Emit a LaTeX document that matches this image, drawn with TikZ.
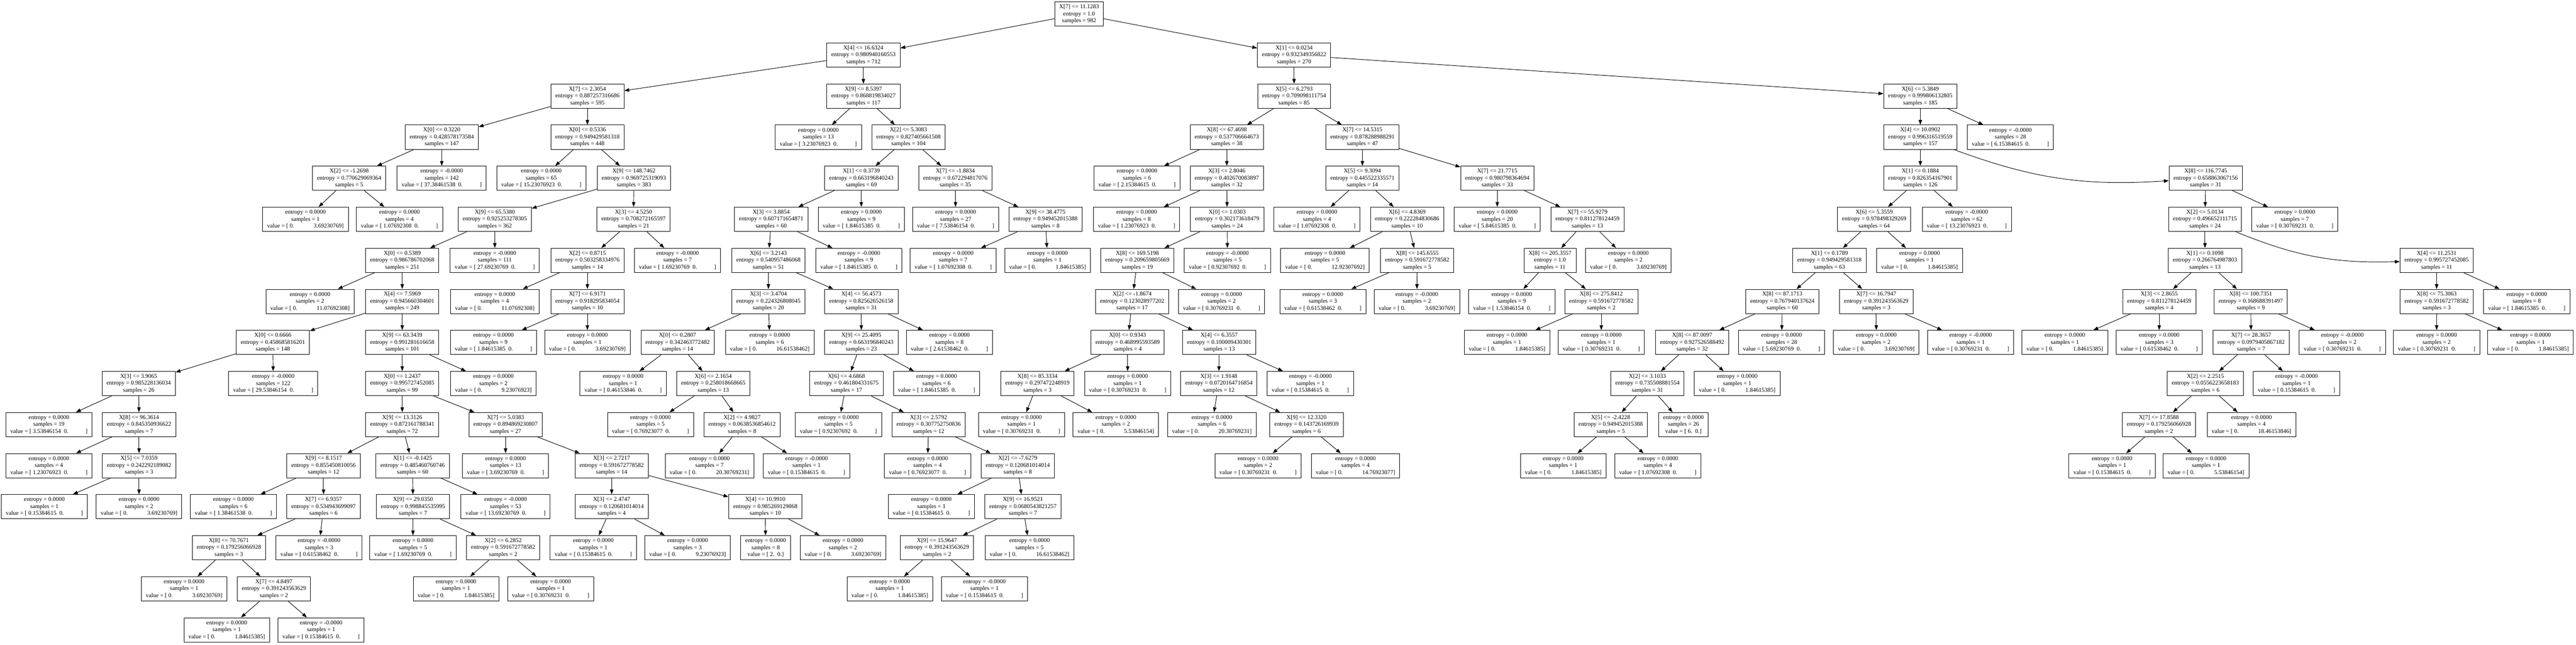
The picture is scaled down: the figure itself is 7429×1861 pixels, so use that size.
\documentclass[tikz,border=0pt]{standalone}
\usepackage{fontspec}
\setmainfont{Liberation Serif}
\usetikzlibrary{arrows.meta}
\newcommand{\tfs}{\fontsize{4.85}{5.7}\selectfont}
\newcommand{\spl}[3]{#1\\entropy = #2\\samples = #3}
\newcommand{\lfa}[3]{entropy = #1\\samples = #2\\value = [ #3\hspace{0.5em}0.\hspace{2.9em}]}
\newcommand{\lfb}[3]{entropy = #1\\samples = #2\\value = [ 0.\hspace{3.3em}#3]}
\newcommand{\lfc}[3]{entropy = #1\\samples = #2\\value = [ #3\hspace{0.5em}0.]}
\tikzset{
  tn/.style={draw, line width=0.4pt, rectangle, align=center, font=\tfs,
    minimum height=0.70cm, inner xsep=0.13cm, inner ysep=0pt, fill=white},
  ed/.style={-{Triangle[length=0.14cm,width=0.10cm]}, line width=0.4pt}
}
\begin{document}
\begin{tikzpicture}[x=0.01cm,y=-0.01cm]
\fill[white] (0,0) rectangle (7429,1861);
\useasboundingbox (0,0) rectangle (7429,1861);
% level 0
\node[tn] (n0) at (3112,40.5) {\spl{X[7] <= 11.1283}{1.0}{982}};
% level 1
\node[tn] (n1) at (2490,159) {\spl{X[4] <= 16.6324}{0.980940160553}{712}};
\node[tn] (n2) at (3732,159) {\spl{X[1] <= 0.0234}{0.932349356822}{270}};
% level 2
\node[tn] (n3) at (1694,277.5) {\spl{X[7] <= 2.3054}{0.887257316686}{595}};
\node[tn] (n4) at (2490,277.5) {\spl{X[9] <= 8.5397}{0.868819834027}{117}};
\node[tn] (n5) at (3732,277.5) {\spl{X[5] <= 6.2793}{0.709098111754}{85}};
\node[tn] (n6) at (5538,277.5) {\spl{X[6] <= 5.3849}{0.999806132805}{185}};
% level 3
\node[tn] (n7) at (1274,396) {\spl{X[0] <= 0.3220}{0.428578173584}{147}};
\node[tn] (n8) at (1694,396) {\spl{X[0] <= 0.5336}{0.949429581318}{448}};
\node[tn] (n9) at (2360,396) {\lfa{0.0000}{13}{3.23076923}};
\node[tn] (n10) at (2620,396) {\spl{X[2] <= 5.3083}{0.827405661508}{104}};
\node[tn] (n11) at (3538,396) {\spl{X[8] <= 67.4698}{0.537706664673}{38}};
\node[tn] (n12) at (3929,396) {\spl{X[7] <= 14.5315}{0.878288988291}{47}};
\node[tn] (n13) at (5538,396) {\spl{X[4] <= 10.0902}{0.996316519559}{157}};
\node[tn] (n14) at (5798,396) {\lfa{-0.0000}{28}{6.15384615}};
% level 4
\node[tn] (n15) at (1007,514.5) {\spl{X[2] <= -1.2698}{0.770629069364}{5}};
\node[tn] (n16) at (1274,514.5) {\lfa{-0.0000}{142}{37.38461538}};
\node[tn] (n17) at (1561,514.5) {\lfa{0.0000}{65}{15.23076923}};
\node[tn] (n18) at (1828,514.5) {\spl{X[9] <= 148.7462}{0.969725319093}{383}};
\node[tn] (n19) at (2484,514.5) {\spl{X[1] <= 0.3739}{0.663196840243}{69}};
\node[tn] (n20) at (2755,514.5) {\spl{X[7] <= -1.8834}{0.672294817076}{35}};
\node[tn] (n21) at (3279,514.5) {\lfa{0.0000}{6}{2.15384615}};
\node[tn] (n22) at (3538,514.5) {\spl{X[3] <= 2.8046}{0.402670083897}{32}};
\node[tn] (n23) at (3929,514.5) {\spl{X[5] <= 9.3094}{0.445522335571}{14}};
\node[tn] (n24) at (4318,514.5) {\spl{X[7] <= 21.7715}{0.980798364694}{33}};
\node[tn] (n25) at (5538,514.5) {\spl{X[1] <= 0.1884}{0.826354167901}{126}};
\node[tn] (n26) at (6361,514.5) {\spl{X[8] <= 116.7745}{0.658863067156}{31}};
% level 5
\node[tn] (n27) at (881,633) {\lfb{0.0000}{1}{3.69230769}};
\node[tn] (n28) at (1152,633) {\lfa{0.0000}{4}{1.07692308}};
\node[tn] (n29) at (1427,633) {\spl{X[9] <= 65.5380}{0.925253278305}{362}};
\node[tn] (n30) at (1827,633) {\spl{X[3] <= 4.5250}{0.708272165597}{21}};
\node[tn] (n31) at (2224,633) {\spl{X[3] <= 3.8854}{0.607171654871}{60}};
\node[tn] (n32) at (2484,633) {\lfa{0.0000}{9}{1.84615385}};
\node[tn] (n33) at (2756,633) {\lfa{0.0000}{27}{7.53846154}};
\node[tn] (n34) at (3015,633) {\spl{X[9] <= 38.4775}{0.949452015388}{8}};
\node[tn] (n35) at (3278,633) {\lfa{0.0000}{8}{1.23076923}};
\node[tn] (n36) at (3539,633) {\spl{X[0] <= 1.0303}{0.302173618479}{24}};
\node[tn] (n37) at (3798,633) {\lfa{0.0000}{4}{1.07692308}};
\node[tn] (n38) at (4058,633) {\spl{X[6] <= 4.8369}{0.222284830686}{10}};
\node[tn] (n39) at (4318,633) {\lfa{0.0000}{20}{5.84615385}};
\node[tn] (n40) at (4578,633) {\spl{X[7] <= 55.9279}{0.811278124459}{13}};
\node[tn] (n41) at (5405,633) {\spl{X[6] <= 5.3559}{0.978498329269}{64}};
\node[tn] (n42) at (5672,633) {\lfa{-0.0000}{62}{13.23076923}};
\node[tn] (n43) at (6359,633) {\spl{X[2] <= 5.0134}{0.496652111715}{24}};
\node[tn] (n44) at (6618,633) {\lfa{0.0000}{7}{0.30769231}};
% level 6
\node[tn] (n45) at (1160,751.5) {\spl{X[0] <= 0.5389}{0.986786702068}{251}};
\node[tn] (n46) at (1427,751.5) {\lfa{-0.0000}{111}{27.69230769}};
\node[tn] (n47) at (1694,751.5) {\spl{X[2] <= 0.8715}{0.503258334976}{14}};
\node[tn] (n48) at (1954,751.5) {\lfa{-0.0000}{7}{1.69230769}};
\node[tn] (n49) at (2216,751.5) {\spl{X[6] <= 3.2143}{0.540957486068}{51}};
\node[tn] (n50) at (2477,751.5) {\lfa{-0.0000}{9}{1.84615385}};
\node[tn] (n51) at (2749,751.5) {\lfa{0.0000}{7}{1.07692308}};
\node[tn] (n52) at (3021,751.5) {\lfb{0.0000}{1}{1.84615385}};
\node[tn] (n53) at (3280,751.5) {\spl{X[8] <= 169.5198}{0.209659805669}{19}};
\node[tn] (n54) at (3540,751.5) {\lfa{-0.0000}{5}{0.92307692}};
\node[tn] (n55) at (3821,751.5) {\lfb{0.0000}{5}{12.92307692}};
\node[tn] (n56) at (4087,751.5) {\spl{X[8] <= 145.6555}{0.591672778582}{5}};
\node[tn] (n57) at (4470,751.5) {\spl{X[8] <= 205.3557}{1.0}{11}};
\node[tn] (n58) at (4696,751.5) {\lfb{0.0000}{2}{3.69230769}};
\node[tn] (n59) at (5276,751.5) {\spl{X[1] <= 0.1789}{0.949429581318}{63}};
\node[tn] (n60) at (5536,751.5) {\lfb{0.0000}{1}{1.84615385}};
\node[tn] (n61) at (6359,751.5) {\spl{X[1] <= 0.1098}{0.266764987803}{13}};
\node[tn] (n62) at (7027,751.5) {\spl{X[4] <= 11.2531}{0.995727452085}{11}};
% level 7
\node[tn] (n63) at (894,870) {\lfb{0.0000}{2}{11.07692308}};
\node[tn] (n64) at (1160,870) {\spl{X[4] <= 7.5969}{0.945660304601}{249}};
\node[tn] (n65) at (1427,870) {\lfb{0.0000}{4}{11.07692308}};
\node[tn] (n66) at (1694,870) {\spl{X[7] <= 6.9171}{0.918295834054}{10}};
\node[tn] (n67) at (2216,870) {\spl{X[3] <= 3.4704}{0.224326808045}{20}};
\node[tn] (n68) at (2484,870) {\spl{X[4] <= 56.4573}{0.825626526158}{31}};
\node[tn] (n69) at (3265,870) {\spl{X[2] <= -1.8674}{0.123028977202}{17}};
\node[tn] (n70) at (3523,870) {\lfa{0.0000}{2}{0.30769231}};
\node[tn] (n71) at (3815,870) {\lfa{0.0000}{3}{0.61538462}};
\node[tn] (n72) at (4086,870) {\lfb{-0.0000}{2}{3.69230769}};
\node[tn] (n73) at (4360,870) {\lfa{0.0000}{9}{1.53846154}};
\node[tn] (n74) at (4618,870) {\spl{X[8] <= 275.8412}{0.591672778582}{2}};
\node[tn] (n75) at (5140,870) {\spl{X[8] <= 87.1713}{0.767940137624}{60}};
\node[tn] (n76) at (5411,870) {\spl{X[7] <= 16.7947}{0.391243563629}{3}};
\node[tn] (n77) at (6227,870) {\spl{X[3] <= 2.8655}{0.811278124459}{4}};
\node[tn] (n78) at (6491,870) {\spl{X[8] <= 100.7351}{0.168688391497}{9}};
\node[tn] (n79) at (7027,870) {\spl{X[8] <= 75.3063}{0.591672778582}{3}};
\node[tn] (n80) at (7287,870) {\lfa{0.0000}{8}{1.84615385}};
% level 8
\node[tn] (n81) at (787,988.5) {\spl{X[0] <= 0.6666}{0.458685816201}{148}};
\node[tn] (n82) at (1160,988.5) {\spl{X[9] <= 63.3439}{0.991281616658}{101}};
\node[tn] (n83) at (1423,988.5) {\lfa{0.0000}{9}{1.84615385}};
\node[tn] (n84) at (1694,988.5) {\lfb{0.0000}{1}{3.69230769}};
\node[tn] (n85) at (1954,988.5) {\spl{X[0] <= 0.2807}{0.342463772482}{14}};
\node[tn] (n86) at (2220,988.5) {\lfb{0.0000}{6}{16.61538462}};
\node[tn] (n87) at (2484,988.5) {\spl{X[9] <= 25.4095}{0.663196840243}{23}};
\node[tn] (n88) at (2738,988.5) {\lfa{0.0000}{8}{2.61538462}};
\node[tn] (n89) at (3252,988.5) {\spl{X[0] <= 0.9343}{0.468995593589}{4}};
\node[tn] (n90) at (3516,988.5) {\spl{X[4] <= 6.3557}{0.100009430301}{13}};
\node[tn] (n91) at (4346,988.5) {\lfb{0.0000}{1}{1.84615385}};
\node[tn] (n92) at (4618,988.5) {\lfa{0.0000}{1}{0.30769231}};
\node[tn] (n93) at (4880,988.5) {\spl{X[8] <= 87.0097}{0.927526588492}{32}};
\node[tn] (n94) at (5138,988.5) {\lfa{0.0000}{28}{5.69230769}};
\node[tn] (n95) at (5411,988.5) {\lfb{0.0000}{2}{3.69230769}};
\node[tn] (n96) at (5683,988.5) {\lfa{-0.0000}{1}{0.30769231}};
\node[tn] (n97) at (5955,988.5) {\lfb{0.0000}{1}{1.84615385}};
\node[tn] (n98) at (6227,988.5) {\lfa{0.0000}{3}{0.61538462}};
\node[tn] (n99) at (6492,988.5) {\spl{X[7] <= 28.3657}{0.0979405867182}{7}};
\node[tn] (n100) at (6755,988.5) {\lfa{-0.0000}{2}{0.30769231}};
\node[tn] (n101) at (7027,988.5) {\lfa{0.0000}{2}{0.30769231}};
\node[tn] (n102) at (7298,988.5) {\lfb{0.0000}{1}{1.84615385}};
% level 9
\node[tn] (n103) at (400,1107) {\spl{X[3] <= 3.9065}{0.985228136034}{26}};
\node[tn] (n104) at (788,1107) {\lfa{-0.0000}{122}{29.53846154}};
\node[tn] (n105) at (1160,1107) {\spl{X[0] <= 1.2437}{0.995727452085}{99}};
\node[tn] (n106) at (1423,1107) {\lfb{0.0000}{2}{9.23076923}};
\node[tn] (n107) at (1797,1107) {\lfa{0.0000}{1}{0.46153846}};
\node[tn] (n108) at (2057,1107) {\spl{X[6] <= 2.1654}{0.258018668665}{13}};
\node[tn] (n109) at (2441,1107) {\spl{X[6] <= 4.6868}{0.461804331675}{17}};
\node[tn] (n110) at (2701,1107) {\lfa{0.0000}{6}{1.84615385}};
\node[tn] (n111) at (2992,1107) {\spl{X[8] <= 85.3334}{0.297472248919}{3}};
\node[tn] (n112) at (3252,1107) {\lfa{0.0000}{1}{0.30769231}};
\node[tn] (n113) at (3515,1107) {\spl{X[3] <= 1.9148}{0.0720164716854}{12}};
\node[tn] (n114) at (3779,1107) {\lfa{-0.0000}{1}{0.15384615}};
\node[tn] (n115) at (4751,1107) {\spl{X[2] <= 3.1033}{0.735508881554}{31}};
\node[tn] (n116) at (5010,1107) {\lfb{0.0000}{1}{1.84615385}};
\node[tn] (n117) at (6360,1107) {\spl{X[2] <= 2.2515}{0.0556223658183}{6}};
\node[tn] (n118) at (6623,1107) {\lfa{-0.0000}{1}{0.15384615}};
% level 10
\node[tn] (n119) at (141,1225.5) {\lfa{0.0000}{19}{3.53846154}};
\node[tn] (n120) at (401,1225.5) {\spl{X[8] <= 96.3614}{0.845350936622}{7}};
\node[tn] (n121) at (1160,1225.5) {\spl{X[9] <= 13.3126}{0.872161788341}{72}};
\node[tn] (n122) at (1458,1225.5) {\spl{X[7] <= 5.0383}{0.894869230807}{27}};
\node[tn] (n123) at (1876,1225.5) {\lfa{0.0000}{5}{0.76923077}};
\node[tn] (n124) at (2140,1225.5) {\spl{X[2] <= 4.9827}{0.0638536854612}{8}};
\node[tn] (n125) at (2418,1225.5) {\lfa{0.0000}{5}{0.92307692}};
\node[tn] (n126) at (2678,1225.5) {\spl{X[3] <= 2.5792}{0.307752750836}{12}};
\node[tn] (n127) at (2946,1225.5) {\lfa{0.0000}{1}{0.30769231}};
\node[tn] (n128) at (3218,1225.5) {\lfb{0.0000}{2}{5.53846154}};
\node[tn] (n129) at (3495,1225.5) {\lfb{0.0000}{6}{20.30769231}};
\node[tn] (n130) at (3768,1225.5) {\spl{X[9] <= 12.3320}{0.143726169939}{6}};
\node[tn] (n131) at (4645,1225.5) {\spl{X[5] <= -2.4228}{0.949452015388}{5}};
\node[tn] (n132) at (4855,1225.5) {\lfc{0.0000}{26}{6.}};
\node[tn] (n133) at (6226,1225.5) {\spl{X[7] <= 17.8588}{0.179256066928}{2}};
\node[tn] (n134) at (6493,1225.5) {\lfb{0.0000}{4}{18.46153846}};
% level 11
\node[tn] (n135) at (141,1344) {\lfa{0.0000}{4}{1.23076923}};
\node[tn] (n136) at (401,1344) {\spl{X[5] <= 7.0359}{0.242292189082}{3}};
\node[tn] (n137) at (933,1344) {\spl{X[9] <= 8.1517}{0.855450810056}{12}};
\node[tn] (n138) at (1190,1344) {\spl{X[1] <= -0.1425}{0.485460760746}{60}};
\node[tn] (n139) at (1458,1344) {\lfa{0.0000}{13}{3.69230769}};
\node[tn] (n140) at (1764,1344) {\spl{X[3] <= 2.7217}{0.591672778582}{14}};
\node[tn] (n141) at (2046,1344) {\lfb{0.0000}{7}{20.30769231}};
\node[tn] (n142) at (2326,1344) {\lfa{-0.0000}{1}{0.15384615}};
\node[tn] (n143) at (2675,1344) {\lfa{0.0000}{4}{0.76923077}};
\node[tn] (n144) at (2935,1344) {\spl{X[2] <= -7.6279}{0.120681014014}{8}};
\node[tn] (n145) at (3628,1344) {\lfa{0.0000}{2}{0.30769231}};
\node[tn] (n146) at (3909,1344) {\lfb{0.0000}{4}{14.76923077}};
\node[tn] (n147) at (4508,1344) {\lfb{0.0000}{1}{1.84615385}};
\node[tn] (n148) at (4781,1344) {\lfa{0.0000}{4}{1.07692308}};
\node[tn] (n149) at (6091,1344) {\lfa{0.0000}{1}{0.15384615}};
\node[tn] (n150) at (6362,1344) {\lfb{0.0000}{1}{5.53846154}};
% level 12
\node[tn] (n151) at (128,1462.5) {\lfa{0.0000}{1}{0.15384615}};
\node[tn] (n152) at (401,1462.5) {\lfb{0.0000}{2}{3.69230769}};
\node[tn] (n153) at (673,1462.5) {\lfa{0.0000}{6}{1.38461538}};
\node[tn] (n154) at (933,1462.5) {\spl{X[7] <= 6.9357}{0.534943699097}{6}};
\node[tn] (n155) at (1191,1462.5) {\spl{X[9] <= 29.0350}{0.998845535995}{7}};
\node[tn] (n156) at (1458,1462.5) {\lfa{-0.0000}{53}{13.69230769}};
\node[tn] (n157) at (1764,1462.5) {\spl{X[3] <= 2.4747}{0.120681014014}{4}};
\node[tn] (n158) at (2207,1462.5) {\spl{X[4] <= 10.9910}{0.985269129868}{10}};
\node[tn] (n159) at (2686,1462.5) {\lfa{0.0000}{1}{0.15384615}};
\node[tn] (n160) at (2950,1462.5) {\spl{X[9] <= 16.9521}{0.0680543821257}{7}};
% level 13
\node[tn] (n161) at (660,1581) {\spl{X[8] <= 70.7671}{0.179256066928}{3}};
\node[tn] (n162) at (920,1581) {\lfa{-0.0000}{3}{0.61538462}};
\node[tn] (n163) at (1191,1581) {\lfa{0.0000}{5}{1.69230769}};
\node[tn] (n164) at (1451,1581) {\spl{X[2] <= 6.2852}{0.591672778582}{2}};
\node[tn] (n165) at (1711,1581) {\lfa{0.0000}{1}{0.15384615}};
\node[tn] (n166) at (1983,1581) {\lfb{0.0000}{3}{9.23076923}};
\node[tn] (n167) at (2208,1581) {\lfc{0.0000}{8}{2.}};
\node[tn] (n168) at (2431,1581) {\lfb{0.0000}{2}{3.69230769}};
\node[tn] (n169) at (2702,1581) {\spl{X[9] <= 15.9647}{0.391243563629}{2}};
\node[tn] (n170) at (2969,1581) {\lfb{0.0000}{5}{16.61538462}};
% level 14
\node[tn] (n171) at (531,1699.5) {\lfb{0.0000}{1}{3.69230769}};
\node[tn] (n172) at (790,1699.5) {\spl{X[7] <= 4.8497}{0.391243563629}{2}};
\node[tn] (n173) at (1315,1699.5) {\lfb{0.0000}{1}{1.84615385}};
\node[tn] (n174) at (1588,1699.5) {\lfa{0.0000}{1}{0.30769231}};
\node[tn] (n175) at (2566,1699.5) {\lfb{0.0000}{1}{1.84615385}};
\node[tn] (n176) at (2839,1699.5) {\lfa{-0.0000}{1}{0.15384615}};
% level 15
\node[tn] (n177) at (654,1818) {\lfb{0.0000}{1}{1.84615385}};
\node[tn] (n178) at (926,1818) {\lfa{-0.0000}{1}{0.15384615}};
% edges
\foreach \a/\b in {0/1,0/2,1/3,1/4,2/5,2/6,3/7,3/8,4/9,4/10,5/11,5/12,6/13,6/14,
  7/15,7/16,8/17,8/18,10/19,10/20,11/21,11/22,12/23,12/24,13/25,
  15/27,15/28,18/29,18/30,19/31,19/32,20/33,20/34,22/35,22/36,23/37,23/38,24/39,24/40,25/41,25/42,26/43,26/44,
  29/45,29/46,30/47,30/48,31/49,31/50,34/51,34/52,36/53,36/54,38/55,38/56,40/57,40/58,41/59,41/60,43/61,
  45/63,45/64,47/65,47/66,49/67,49/68,53/69,53/70,56/71,56/72,57/73,57/74,59/75,59/76,61/77,61/78,62/79,62/80,
  64/81,64/82,66/83,66/84,67/85,67/86,68/87,68/88,69/89,69/90,74/91,74/92,75/93,75/94,76/95,76/96,77/97,77/98,78/99,78/100,79/101,79/102,
  81/103,81/104,82/105,82/106,85/107,85/108,87/109,87/110,89/111,89/112,90/113,90/114,93/115,93/116,99/117,99/118,
  103/119,103/120,105/121,105/122,108/123,108/124,109/125,109/126,111/127,111/128,113/129,113/130,115/131,115/132,117/133,117/134,
  120/135,120/136,121/137,121/138,122/139,122/140,124/141,124/142,126/143,126/144,130/145,130/146,131/147,131/148,133/149,133/150,
  136/151,136/152,137/153,137/154,138/155,138/156,140/157,140/158,144/159,144/160,
  154/161,154/162,155/163,155/164,157/165,157/166,158/167,158/168,160/169,160/170,
  161/171,161/172,164/173,164/174,169/175,169/176,172/177,172/178}
  {\draw[ed] (n\a) -- (n\b);}
\draw[ed] (n13) to[bend right=12] (n26);
\draw[ed] (n43) to[bend right=12] (n62);
\end{tikzpicture}
\end{document}
